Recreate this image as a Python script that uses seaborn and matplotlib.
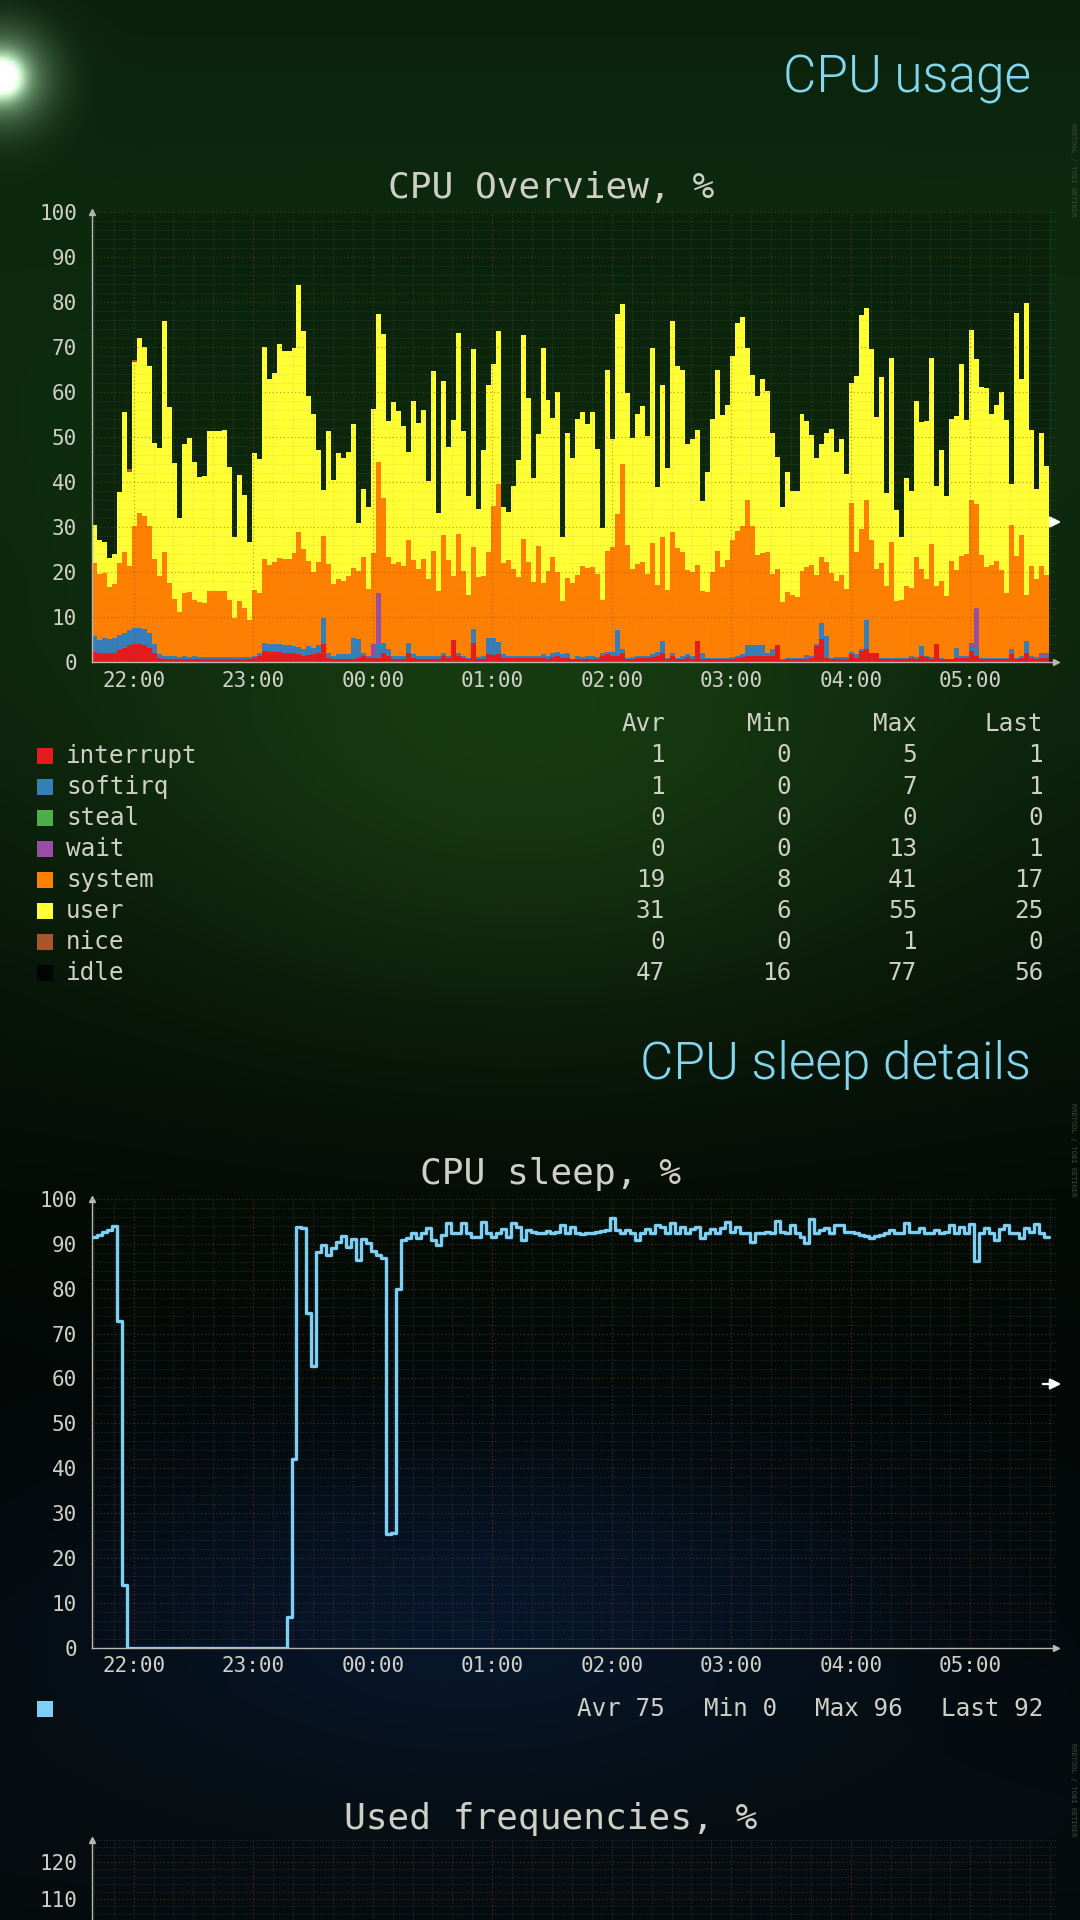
import numpy as np
import pandas as pd
import matplotlib
matplotlib.use("Agg")
import matplotlib.pyplot as plt
import matplotlib.dates as mdates
from matplotlib.ticker import MultipleLocator
from matplotlib.patches import Rectangle
import seaborn as sns

W, H = 1080, 1920

# ---- values (RRD step of 2.5 minutes) ----
start_time = "2024-01-01 21:39:15"
step_seconds = 150

# stacked levels of the CPU overview, %
user_top = [
    30.5, 27.1, 26.8, 23.2, 24.1, 37.9, 55.6, 42.3, 66.7, 72.0, 70.1, 65.7, 48.6, 47.6, 75.7, 56.7, 44.2, 32.0, 48.5, 49.7, 44.5, 41.1, 41.4, 51.3,
    51.3, 51.3, 51.5, 43.3, 27.9, 41.6, 37.2, 26.8, 46.4, 45.1, 70.0, 62.8, 64.3, 70.6, 69.1, 69.0, 69.8, 83.8, 73.5, 59.1, 55.1, 47.1, 38.3, 51.3,
    40.5, 46.5, 45.3, 46.8, 53.0, 30.9, 38.5, 34.4, 56.2, 77.4, 72.8, 53.5, 57.7, 55.8, 52.5, 46.8, 58.0, 53.2, 56.1, 40.3, 64.6, 33.1, 62.4, 47.9,
    53.8, 73.1, 51.3, 37.0, 69.5, 34.1, 47.2, 61.5, 66.3, 73.5, 34.4, 33.3, 39.2, 44.9, 72.6, 58.6, 40.9, 50.7, 69.8, 58.2, 54.3, 60.0, 27.9, 51.0,
    45.4, 54.0, 55.6, 53.0, 55.6, 47.3, 29.9, 64.8, 49.5, 77.4, 79.6, 59.7, 49.7, 55.1, 56.9, 50.3, 69.8, 39.0, 61.5, 43.2, 75.7, 65.7, 65.0, 48.5,
    49.5, 51.5, 35.8, 42.3, 54.1, 65.0, 55.0, 57.1, 68.1, 75.3, 76.6, 69.8, 63.7, 59.1, 62.8, 60.2, 50.8, 45.6, 34.4, 42.2, 38.1, 38.1, 55.1, 53.5,
    50.4, 45.4, 48.5, 51.0, 51.8, 46.8, 49.5, 41.7, 62.1, 63.6, 77.0, 78.6, 69.5, 54.5, 63.3, 37.7, 67.6, 33.8, 27.9, 40.9, 38.1, 58.0, 53.4, 53.5,
    67.6, 39.2, 47.1, 37.0, 54.0, 54.7, 66.2, 53.8, 73.7, 67.4, 61.1, 60.8, 55.2, 57.2, 59.9, 53.9, 39.7, 77.5, 62.8, 79.8, 51.5, 38.5, 51.0, 43.6,
]
system_top = [
    22.0, 19.7, 19.8, 16.7, 17.3, 22.0, 24.5, 21.5, 30.3, 33.1, 32.4, 30.3, 22.9, 19.1, 24.4, 17.6, 14.1, 11.1, 15.3, 15.6, 13.9, 13.3, 13.2, 15.8,
    15.8, 15.8, 15.9, 13.8, 9.9, 13.6, 12.1, 9.5, 16.0, 15.4, 22.9, 21.7, 22.2, 23.2, 22.9, 23.0, 24.3, 28.9, 25.1, 22.4, 20.0, 22.2, 28.1, 21.9,
    17.3, 18.4, 18.0, 19.1, 20.9, 20.2, 23.4, 16.2, 24.3, 44.4, 36.4, 23.4, 21.8, 22.2, 21.3, 27.2, 22.8, 20.8, 22.9, 18.4, 24.8, 15.9, 28.3, 22.8,
    19.2, 28.5, 20.2, 15.0, 25.5, 19.0, 19.2, 24.6, 34.6, 39.5, 22.0, 22.8, 20.8, 19.0, 27.4, 22.2, 17.8, 25.9, 17.6, 20.2, 23.5, 20.0, 13.6, 18.7,
    17.6, 19.5, 21.5, 20.9, 21.1, 19.6, 13.9, 24.8, 25.7, 32.9, 44.0, 26.1, 20.8, 21.8, 22.3, 19.7, 26.5, 17.1, 27.8, 16.0, 28.9, 25.4, 24.5, 20.6,
    20.1, 21.7, 15.8, 15.6, 20.1, 24.8, 21.1, 22.8, 27.2, 29.1, 30.3, 36.1, 30.3, 23.9, 24.3, 24.5, 19.7, 20.8, 13.3, 15.6, 15.0, 14.5, 20.2, 21.2,
    21.7, 19.5, 23.4, 22.2, 19.8, 18.1, 19.5, 16.2, 35.3, 24.4, 29.6, 36.1, 27.2, 20.8, 22.0, 16.9, 26.7, 13.6, 13.9, 17.0, 16.5, 23.3, 20.7, 18.5,
    26.3, 16.9, 18.0, 14.7, 22.6, 20.6, 23.7, 24.0, 36.1, 35.2, 23.9, 21.1, 21.7, 22.6, 20.6, 15.4, 30.5, 23.7, 28.2, 15.0, 21.5, 18.4, 21.5, 19.5,
]
softirq_top = [
    5.8, 4.9, 5.5, 5.3, 5.5, 6.0, 6.6, 7.3, 7.7, 7.7, 7.5, 6.6, 4.0, 1.8, 1.4, 1.4, 1.5, 1.3, 1.4, 1.3, 1.4, 1.2, 1.2, 1.2,
    1.2, 1.2, 1.2, 1.2, 1.2, 1.2, 1.2, 1.2, 1.5, 2.1, 4.4, 4.0, 4.0, 4.0, 3.8, 3.8, 3.6, 3.5, 2.9, 3.6, 3.2, 3.8, 9.9, 2.1,
    1.5, 1.8, 1.8, 1.8, 5.5, 5.1, 2.1, 1.5, 1.5, 4.2, 4.2, 2.9, 1.4, 1.4, 1.4, 4.4, 1.8, 1.5, 1.5, 1.5, 1.5, 1.5, 2.1, 1.5,
    4.9, 2.1, 1.5, 1.0, 7.5, 1.2, 1.4, 5.5, 5.5, 4.5, 1.8, 1.5, 1.4, 1.4, 1.4, 1.4, 1.4, 1.4, 1.8, 1.4, 2.1, 2.3, 1.8, 2.1,
    0.7, 1.4, 1.2, 1.4, 1.4, 1.2, 2.1, 2.3, 2.4, 7.3, 2.9, 1.0, 1.2, 1.4, 1.4, 1.4, 1.8, 2.3, 4.7, 1.0, 2.1, 1.0, 1.4, 1.8,
    1.4, 4.7, 2.1, 1.0, 1.0, 1.0, 1.0, 1.0, 1.2, 1.5, 1.8, 3.8, 3.8, 3.8, 3.8, 2.1, 2.9, 3.8, 0.8, 1.0, 1.0, 1.0, 1.0, 1.2,
    1.4, 4.0, 8.8, 5.8, 1.0, 1.2, 1.2, 1.2, 2.3, 1.8, 2.9, 9.5, 2.1, 2.1, 1.0, 1.0, 1.0, 1.0, 1.0, 1.0, 1.5, 1.2, 3.6, 1.4,
    1.2, 4.0, 1.0, 0.8, 0.8, 3.2, 1.4, 1.4, 3.2, 3.2, 1.0, 1.0, 1.0, 1.0, 1.0, 1.0, 2.9, 1.0, 1.4, 4.7, 1.4, 1.2, 1.5, 1.5,
]
interrupt = [
    2.3, 2.1, 2.1, 2.0, 2.1, 2.7, 3.2, 3.8, 4.0, 4.0, 3.8, 3.2, 2.0, 1.0, 0.8, 0.8, 0.8, 0.7, 0.8, 0.7, 0.8, 0.7, 0.7, 0.7,
    0.7, 0.7, 0.7, 0.7, 0.7, 0.7, 0.7, 0.7, 1.0, 1.4, 2.5, 2.3, 2.4, 2.3, 2.1, 2.1, 2.0, 1.8, 1.4, 1.6, 1.8, 2.1, 4.0, 1.0,
    0.7, 0.8, 0.8, 0.8, 0.8, 1.0, 1.4, 1.0, 1.0, 1.0, 2.1, 1.4, 0.8, 0.8, 0.8, 2.1, 1.0, 0.8, 0.8, 0.8, 0.8, 0.8, 1.4, 1.0,
    4.9, 1.4, 1.0, 0.7, 4.4, 0.7, 0.8, 1.8, 1.6, 1.8, 1.0, 1.0, 0.9, 0.9, 0.9, 0.9, 0.9, 0.9, 1.0, 0.8, 1.3, 1.4, 1.0, 1.0,
    0.7, 0.8, 0.7, 0.8, 0.8, 0.8, 1.4, 1.8, 1.4, 1.5, 2.1, 0.7, 0.8, 1.0, 1.0, 1.0, 1.2, 1.5, 2.1, 0.7, 1.5, 0.7, 0.8, 1.2,
    0.8, 4.7, 0.8, 0.7, 0.7, 0.7, 0.7, 0.7, 0.8, 1.0, 1.3, 1.4, 1.4, 1.4, 1.5, 1.4, 1.4, 3.8, 0.5, 0.7, 0.7, 0.7, 0.7, 0.8,
    1.0, 3.6, 5.1, 1.0, 0.7, 0.8, 0.8, 0.8, 1.8, 1.0, 2.5, 2.9, 2.1, 2.0, 0.7, 0.7, 0.7, 0.7, 0.7, 0.7, 1.0, 0.8, 1.4, 1.2,
    0.8, 4.0, 0.7, 0.7, 0.7, 1.0, 1.0, 1.0, 2.5, 1.5, 0.7, 0.7, 0.7, 0.7, 0.7, 0.7, 1.8, 0.7, 1.0, 2.1, 1.0, 0.8, 1.0, 1.0,
]
wait = [
    0, 0, 0, 0, 0, 0, 0, 0, 0, 0, 0, 0, 0, 0, 0, 0, 0, 0, 0, 0, 0, 0, 0, 0,
    0, 0, 0, 0, 0, 0, 0, 0, 0, 0, 0, 0, 0, 0, 0, 0, 0, 0, 0, 0, 0, 0, 0, 0,
    0, 0, 0, 0, 0, 0, 0, 0, 2.5, 11.2, 0, 0, 0, 0, 0, 0, 0, 0, 0, 0, 0, 0, 0, 0,
    0, 0, 0, 0, 0, 0, 0, 0, 0, 0, 0, 0, 0, 0, 0, 0, 0, 0, 0, 0, 0, 0, 0, 0,
    0, 0, 0, 0, 0, 0, 0, 0, 0, 0, 0, 0, 0, 0, 0, 0, 0, 0, 0, 0, 0, 0, 0, 0,
    0, 0, 0, 0, 0, 0, 0, 0, 0, 0, 0, 0, 0, 0, 0, 0, 0, 0, 0, 0, 0, 0, 0, 0.4,
    0, 0, 0, 0, 0, 0, 0, 0, 0, 0, 0, 0, 0, 0, 0, 0, 0, 0, 0, 0, 0, 0, 0, 0,
    0, 0, 0, 0, 0, 0, 0, 0, 1.0, 8.9, 0, 0, 0, 0, 0, 0, 0, 0, 0, 0, 0, 0, 0.6, 0.6,
]
nice = [
    0, 0, 0, 0, 0, 0, 0, 0.6, 0.5, 0, 0, 0, 0, 0, 0, 0, 0, 0, 0, 0, 0, 0, 0, 0,
] + [0] * 168

cpu_sleep = [
    91.4, 92.0, 92.5, 93.0, 93.9, 72.8, 14.0, 0, 0, 0, 0, 0, 0, 0, 0, 0, 0, 0, 0, 0, 0, 0, 0, 0,
    0, 0, 0, 0, 0, 0, 0, 0, 0, 0, 0, 0, 0, 0, 0, 7.0, 42.0, 93.8, 93.4, 74.5, 62.8, 88.2, 89.7, 87.5,
    89.1, 90.4, 91.7, 89.3, 91.0, 86.4, 91.0, 90.2, 88.4, 87.5, 86.7, 25.4, 25.7, 80.0, 90.8, 91.2, 92.4, 91.2, 92.3, 93.4, 90.9, 89.8, 91.9, 94.5,
    92.3, 92.3, 94.7, 92.4, 91.4, 91.4, 94.9, 92.4, 91.4, 92.3, 93.2, 91.4, 94.5, 93.6, 90.9, 93.0, 92.7, 92.3, 92.4, 92.8, 92.3, 92.7, 94.1, 92.4,
    93.8, 92.4, 92.1, 92.3, 92.4, 92.7, 92.9, 93.0, 95.6, 93.0, 92.4, 93.0, 92.3, 90.8, 92.3, 93.2, 92.3, 94.1, 93.8, 92.3, 94.5, 92.3, 93.8, 92.3,
    93.2, 93.8, 91.2, 92.3, 93.2, 92.3, 93.4, 94.9, 92.7, 93.8, 92.3, 92.4, 90.4, 92.3, 92.4, 92.7, 92.4, 95.1, 92.7, 92.3, 94.1, 92.3, 91.5, 90.1,
    95.4, 92.3, 93.0, 93.4, 92.3, 94.1, 94.1, 92.7, 92.7, 92.4, 91.9, 91.7, 91.2, 91.7, 91.9, 92.3, 93.0, 92.3, 92.3, 94.7, 92.7, 92.7, 93.4, 92.3,
    92.4, 93.0, 92.3, 92.7, 94.1, 92.3, 93.8, 92.3, 94.4, 86.2, 92.3, 93.4, 92.3, 90.8, 93.2, 94.1, 92.3, 92.4, 91.2, 93.4, 92.7, 94.4, 92.3, 91.5,
]

series_names = ["interrupt", "softirq", "steal", "wait", "system", "user", "nice", "idle"]
stat_avr = [1, 1, 0, 0, 19, 31, 0, 47]
stat_min = [0, 0, 0, 0, 8, 6, 0, 16]
stat_max = [5, 7, 0, 13, 41, 55, 1, 77]
stat_last = [1, 1, 0, 1, 17, 25, 0, 56]

sleep_stat_names = ["Avr", "Min", "Max", "Last"]
sleep_stat_values = [75, 0, 96, 92]

freq_ticks = [110, 120]

# ---- style ----
sns.set_theme(style="dark", rc={"axes.facecolor": "none", "figure.facecolor": "black"})
plt.rcParams["font.family"] = ["DejaVu Sans Mono", "DejaVu Sans"]

MONO = "DejaVu Sans Mono"
TXT = "#cfcfc6"
AXIS = "#b8b8b0"
HEAD = "#82d6ee"
colors = sns.color_palette("Set1", 7) + ["#020602"]


def fx(x):
    return x / W


def fy(y):
    return 1 - y / H


# ---- frame ----
times = pd.date_range(start_time, periods=len(user_top), freq=f"{step_seconds}s")
step_days = step_seconds / 86400.0
t0 = times[0]
t_end = t0 + pd.Timedelta(hours=8, minutes=3.5)

cpu = pd.DataFrame({"time": times})
cpu["interrupt"] = np.array(interrupt)
cpu["softirq"] = np.clip(np.array(softirq_top) - np.array(interrupt), 0, None)
cpu["steal"] = 0.0
cpu["wait"] = np.array(wait, dtype=float)
cpu["system"] = np.array(system_top) - np.array(softirq_top) - cpu["wait"]
cpu["user"] = np.array(user_top) - np.array(system_top)
cpu["nice"] = np.array(nice, dtype=float)
cpu["idle"] = 100 - cpu[series_names[:-1]].sum(axis=1)

fig = plt.figure(figsize=(W / 100, H / 100), dpi=100)

# ---- page background ----
bg = fig.add_axes([0, 0, 1, 1], zorder=-10)
yy, xx = np.mgrid[0:H:4, 0:W:4].astype(float)
img = np.zeros(yy.shape + (3,))
img += np.array([3, 6, 5])
img += np.array([10, 36, 9]) * np.exp(-((yy - 330) / 620) ** 2)[..., None]
img += np.array([14, 30, 6]) * np.exp(-((xx - 520) / 430) ** 2 - ((yy - 760) / 280) ** 2)[..., None]
img += np.array([4, 14, 36]) * np.exp(-((xx - 470) / 430) ** 2 - ((yy - 1610) / 170) ** 2)[..., None]
img += np.array([3, 6, 9]) * np.exp(-((yy - 1850) / 200) ** 2)[..., None]
flare = np.exp(-((xx - 0) ** 2 + (yy - 75) ** 2) / (2 * 14 ** 2))
halo = np.exp(-((xx - 0) ** 2 + (yy - 75) ** 2) / (2 * 34 ** 2))
img += np.array([255, 255, 255]) * flare[..., None] + np.array([110, 130, 110]) * halo[..., None]
bg.imshow(np.clip(img, 0, 255) / 255, extent=[0, W, H, 0], aspect="auto", interpolation="bilinear")
bg.set_xlim(0, W)
bg.set_ylim(H, 0)
bg.axis("off")


def style_axes(ax, ymax):
    ax.set_facecolor("none")
    ax.set_xlim(t0, t_end)
    ax.set_ylim(0, ymax)
    ax.xaxis.set_major_locator(mdates.HourLocator())
    ax.xaxis.set_minor_locator(mdates.MinuteLocator(byminute=[10, 20, 30, 40, 50]))
    ax.xaxis.set_major_formatter(mdates.DateFormatter("%H:%M"))
    ax.yaxis.set_major_locator(MultipleLocator(10))
    ax.yaxis.set_minor_locator(MultipleLocator(2))
    ax.set_axisbelow(False)
    ax.grid(which="major", color="#8a4a30", alpha=0.5, ls=(0, (1, 2)), lw=0.9)
    ax.grid(which="minor", color="#8a8a7a", alpha=0.3, ls=(0, (1, 2)), lw=0.7)
    for s in ["top", "right"]:
        ax.spines[s].set_visible(False)
    for s in ["left", "bottom"]:
        ax.spines[s].set_color(AXIS)
        ax.spines[s].set_linewidth(1.0)
    ax.tick_params(which="both", length=0, colors=TXT, labelsize=15)
    ax.tick_params(axis="y", pad=11)
    ax.tick_params(axis="x", pad=6)
    ax.set_xlabel("")
    ax.set_ylabel("")
    ax.plot([0], [1], marker="^", ms=4, color=AXIS, transform=ax.transAxes, clip_on=False)
    ax.plot([1], [0], marker=">", ms=4, color=AXIS, transform=ax.transAxes, clip_on=False)


left_px = 92.3
right_px = 1055.5
ax_w = fx(right_px - left_px)

# ---- CPU overview ----
ax1 = fig.add_axes([fx(left_px), fy(662.4), ax_w, (662.4 - 211.8) / H])
bottom = np.zeros(len(cpu))
for name, c in zip(series_names, colors):
    alpha = 0.2 if name == "idle" else 1.0
    ax1.bar(cpu["time"], cpu[name], bottom=bottom, width=step_days, align="edge",
            color=c, alpha=alpha, linewidth=0, antialiased=False, zorder=1)
    bottom = bottom + cpu[name].to_numpy()
style_axes(ax1, 100)
ax1.set_yticks(range(0, 101, 10))

# ---- CPU sleep ----
ax2 = fig.add_axes([fx(left_px), fy(1648.1), ax_w, (1648.1 - 1198.7) / H])
sleep = pd.DataFrame({"time": list(times) + [times[-1] + pd.Timedelta(seconds=step_seconds)],
                      "sleep": cpu_sleep + [cpu_sleep[-1]]})
sns.lineplot(data=sleep, x="time", y="sleep", ax=ax2, drawstyle="steps-post",
             color="#7fcff4", lw=2.4, estimator=None, zorder=3)
style_axes(ax2, 100)
ax2.set_yticks(range(0, 101, 10))

# ---- used frequencies (cut at page bottom) ----
ax3 = fig.add_axes([fx(left_px), fy(1862 + 120 * 3.7), ax_w, 126 * 3.7 / H])
style_axes(ax3, 126)
ax3.set_yticks(freq_ticks)
ax3.tick_params(axis="x", labelbottom=False)

# ---- headings ----
fig.text(fx(1031), fy(93), "CPU usage", ha="right", va="baseline", fontsize=37,
         color=HEAD, family=["Roboto", "DejaVu Sans"], weight=300)
fig.text(fx(1031), fy(1079), "CPU sleep details", ha="right", va="baseline", fontsize=37,
         color=HEAD, family=["Roboto", "DejaVu Sans"], weight=300)
for y, title in [(198, "CPU Overview, %"), (1184, "CPU sleep, %"), (1829, "Used frequencies, %")]:
    fig.text(fx(551), fy(y), title, ha="center", va="baseline", fontsize=26, color=TXT, family=MONO)

# watermark along the right edge
for y in [170, 1150, 1790]:
    fig.text(fx(1073), fy(y), "RRDTOOL / TOBI OETIKER", rotation=270, ha="center", va="center",
             fontsize=5, color="#3c4c3c", family=MONO)

# side arrows
for y in [522, 1384]:
    bg.annotate("", xy=(1064, y), xytext=(1040, y),
                arrowprops=dict(arrowstyle="-|>", color="white", lw=1.6, mutation_scale=16))

# ---- legend of CPU overview ----
col_x = [665, 791, 917, 1043]
for x, head in zip(col_x, ["Avr", "Min", "Max", "Last"]):
    fig.text(fx(x), fy(724), head, ha="right", va="center", fontsize=17.5, color=TXT, family=MONO)
for i, name in enumerate(series_names):
    y = 755.5 + i * 31.1
    fig.add_artist(Rectangle((fx(37), fy(y + 8)), 16 / W, 16 / H, transform=fig.transFigure,
                             facecolor=colors[i], edgecolor="none"))
    fig.text(fx(66), fy(y), name, ha="left", va="center", fontsize=17.5, color=TXT, family=MONO)
    for x, v in zip(col_x, [stat_avr[i], stat_min[i], stat_max[i], stat_last[i]]):
        fig.text(fx(x), fy(y), str(v), ha="right", va="center", fontsize=17.5, color=TXT, family=MONO)

# ---- legend of CPU sleep ----
fig.add_artist(Rectangle((fx(37), fy(1717)), 16 / W, 16 / H, transform=fig.transFigure,
                         facecolor="#7fcff4", edgecolor="none"))
for x, n, v in zip([665, 777, 903, 1043], sleep_stat_names, sleep_stat_values):
    fig.text(fx(x), fy(1709), f"{n} {v}", ha="right", va="center", fontsize=17.5, color=TXT, family=MONO)

fig.savefig("out.png", dpi=100)
